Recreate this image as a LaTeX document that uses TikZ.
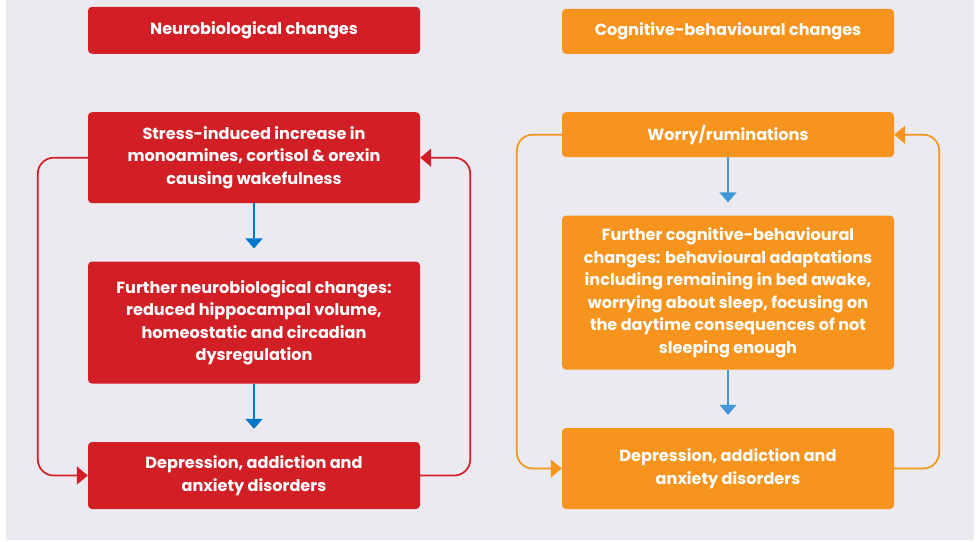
\documentclass[tikz,border=0pt]{standalone}
\usepackage{fontspec}
\setmainfont{Poppins}
\usetikzlibrary{arrows.meta, positioning}

\definecolor{neured}{HTML}{D21F26}
\definecolor{cogorange}{HTML}{F7941D}
\definecolor{flowblue}{HTML}{0077C8}
\definecolor{panelgray}{HTML}{EBEAF0}

\begin{document}
\begin{tikzpicture}[
  x=1pt, y=-1pt,
  % --- styles ------------------------------------------------------------
  box/.style={
    rectangle, rounded corners=4pt, minimum width=332pt, inner sep=2pt,
    text=white, align=center,
    font=\bfseries\fontsize{16.1}{22.5}\selectfont
  },
  redbox/.style={box, fill=neured},
  orangebox/.style={box, fill=cogorange},
  flow/.style={-{Triangle[width=17pt,length=10pt]}, flowblue, line width=2pt, shorten >=13pt},
  flowthin/.style={flow, line width=1.2pt, flowblue!75},
  loopred/.style={-{Triangle[width=18pt,length=11pt]}, neured, line width=1.7pt, rounded corners=16pt},
  looporange/.style={loopred, cogorange},
  node distance = 58pt % vertical gap between boxes
]

% --------------------- background ---------------------------------------
\useasboundingbox (0,0) rectangle (979,541);
\fill[panelgray] (6,0) rectangle (974,540);

% --------------------- left column --------------------------------------
\node[redbox, minimum height=47pt, anchor=south] (neuhead) at (254,54) {Neurobiological changes};
\node[redbox, minimum height=91pt, below=of neuhead] (neu1) {Stress-induced increase in\\monoamines, cortisol \& orexin\\causing wakefulness};
\node[redbox, minimum height=122pt, below=of neu1] (neu2) {Further neurobiological changes:\\reduced hippocampal volume,\\homeostatic and circadian\\dysregulation};
\node[redbox, minimum height=67pt, below=of neu2] (neu3) {Depression, addiction and\\anxiety disorders};

% --------------------- right column -------------------------------------
\node[orangebox, minimum height=45pt, anchor=south] (coghead) at (728,54) {Cognitive-behavioural changes};
\node[orangebox, minimum height=45pt, below=of coghead] (cog1) {Worry/ruminations};
\node[orangebox, minimum height=154pt, below=of cog1] (cog2) {Further cognitive-behavioural\\changes: behavioural adaptations\\including remaining in bed awake,\\worrying about sleep, focusing on\\the daytime consequences of not\\sleeping enough};
\node[orangebox, minimum height=81pt, below=of cog2] (cog3) {Depression, addiction and\\anxiety disorders};

% --------------------- main flow arrows ---------------------------------
\draw[flow] (neu1) -- (neu2);
\draw[flow] (neu2) -- (neu3);
\draw[flowthin] (cog1) -- (cog2);
\draw[flowthin] (cog2) -- (cog3);

% --------------------- feedback loops -----------------------------------
\draw[loopred] (neu1.west) -- ++(-50,0) |- (neu3.west);
\draw[loopred] (neu3.east) -- ++(50,0) |- (neu1.east);
\draw[looporange] (cog1.west) -- ++(-45,0) |- (cog3.west);
\draw[looporange] (cog3.east) -- ++(45,0) |- (cog1.east);

\end{tikzpicture}
\end{document}
